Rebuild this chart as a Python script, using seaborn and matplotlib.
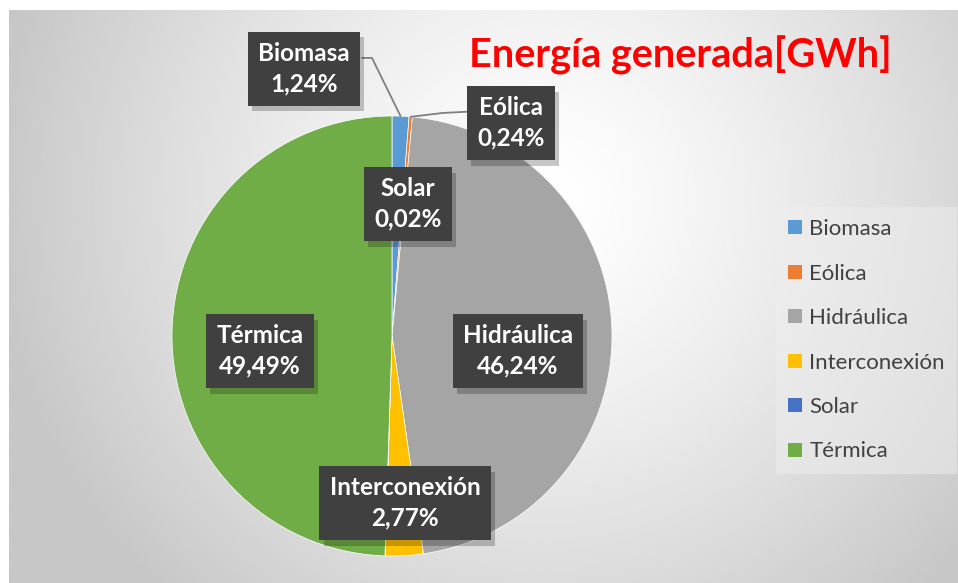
import numpy as np
import matplotlib.pyplot as plt
import matplotlib.patheffects as pe
import seaborn as sns
from matplotlib.patches import Patch

fuentes = ['Biomasa', 'Eólica', 'Hidráulica', 'Interconexión', 'Solar', 'Térmica']
porcentajes = [1.24, 0.24, 46.24, 2.77, 0.02, 49.49]
colores = ['#5B9BD5', '#ED7D31', '#A5A5A5', '#FFC000', '#4472C4', '#70AD47']
titulo = 'Energía generada[GWh]'

# label box centres in pie units (radius = 1), placed by hand like the original
pos_etiquetas = [(-0.40, 1.214), (0.541, 0.968), (0.573, -0.068),
                 (0.059, -0.759), (0.073, 0.60), (-0.60, -0.068)]
# elbow / box anchors for the labels that have leader lines
guias = {0: [(-0.091, 1.264), (-0.136, 1.264)],
         1: [(0.232, 1.014), (0.355, 1.02)]}

sns.set_theme(style='white')
plt.rcParams['font.family'] = ['Lato', 'DejaVu Sans']


def main():
    W, H = 958, 583
    fig = plt.figure(figsize=(W / 100, H / 100), dpi=100)
    fig.patch.set_facecolor('white')

    # radial gradient background (white in the middle, grey towards corners)
    bg = fig.add_axes([9 / W, 0, 1 - 9 / W, 1 - 10 / H])
    yy, xx = np.mgrid[0:1:300j, 0:1:500j]
    d = np.sqrt(((xx - 0.56) * 1.64) ** 2 + (yy - 0.33) ** 2)
    val = 1.0 - 0.22 * np.clip(d / 0.95, 0, 1) ** 1.3
    bg.imshow(val, cmap='gray', vmin=0, vmax=1, aspect='auto',
              extent=[0, 1, 1, 0], interpolation='bilinear')
    bg.set_axis_off()

    r = 220
    cx, cy = 392, 336
    ax = fig.add_axes([(cx - r) / W, (H - cy - r) / H, 2 * r / W, 2 * r / H])
    ax.set_facecolor('none')
    wedges, _ = ax.pie(porcentajes, colors=sns.color_palette(colores),
                       startangle=90, counterclock=False, radius=1,
                       wedgeprops=dict(edgecolor='white', linewidth=0.5))
    ax.set_xlim(-1, 1)
    ax.set_ylim(-1, 1)
    ax.set_aspect('equal')
    ax.set_axis_off()

    for i, (nombre, p) in enumerate(zip(fuentes, porcentajes)):
        tx, ty = pos_etiquetas[i]
        texto = f'{nombre}\n{p:.2f}%'.replace('.', ',')
        if i in guias:
            w = wedges[i]
            ang = np.deg2rad((w.theta1 + w.theta2) / 2)
            pts = [(np.cos(ang), np.sin(ang))] + guias[i]
            ax.plot([q[0] for q in pts], [q[1] for q in pts],
                    color='#7f7f7f', lw=1.3, zorder=3, clip_on=False)
        t = ax.text(tx, ty, texto, ha='center', va='center', fontsize=17.5,
                    fontweight='bold', color='white', linespacing=1.4, zorder=5,
                    bbox=dict(boxstyle='square,pad=0.42', fc='#404040', ec='none', lw=0))
        t.get_bbox_patch().set_path_effects(
            [pe.SimplePatchShadow(offset=(3, -4), shadow_rgbFace='black', alpha=0.22),
             pe.Normal()])

    fig.text(680 / W, 1 - 55 / H, titulo, ha='center', va='center',
             fontsize=28.5, fontweight='bold', color='#FF0000')

    handles = [Patch(facecolor=c, edgecolor='none') for c in colores]
    leg = fig.legend(handles, fuentes, loc='upper left',
                     bbox_to_anchor=(776 / W, 1 - 207 / H), frameon=True,
                     fontsize=16, handlelength=0.6, handleheight=0.6,
                     handletextpad=0.35, labelspacing=1.1, borderpad=0.55,
                     borderaxespad=0, fancybox=False)
    leg.get_frame().set_facecolor('#eeeeee')
    leg.get_frame().set_alpha(0.5)
    leg.get_frame().set_edgecolor('none')
    for t in leg.get_texts():
        t.set_color('#404040')

    fig.savefig('out.png', dpi=100)
    plt.close(fig)


if __name__ == '__main__':
    main()
